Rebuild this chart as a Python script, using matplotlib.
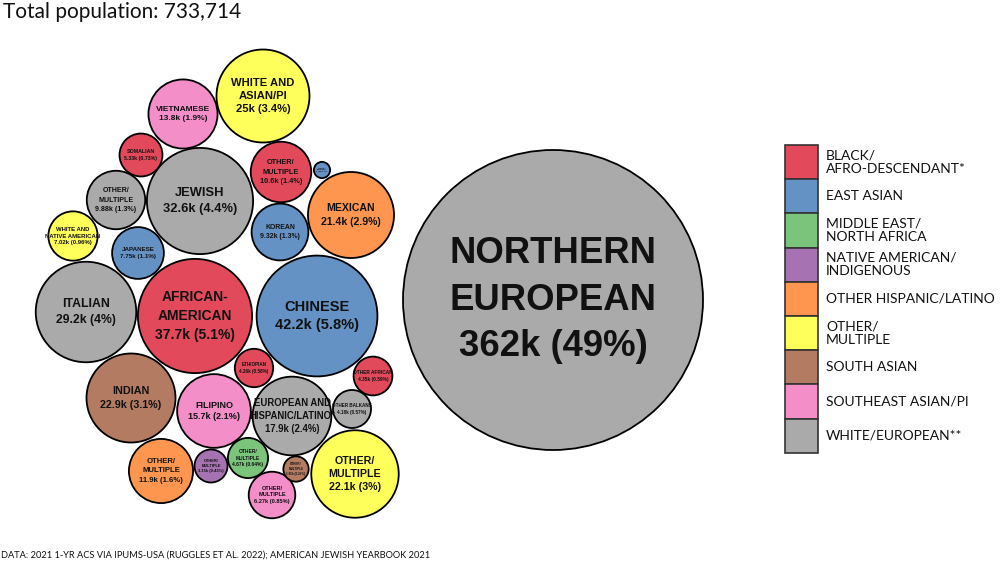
import matplotlib
matplotlib.use("Agg")
import matplotlib.pyplot as plt
from matplotlib.patches import Circle, Rectangle
import numpy as np

# datos de la grafica (valores en miles de personas)
total_poblacion = 733714
nombres = [
    "NORTHERN\nEUROPEAN", "CHINESE", "AFRICAN-\nAMERICAN", "JEWISH", "ITALIAN",
    "WHITE AND\nASIAN/PI", "INDIAN", "OTHER/\nMULTIPLE", "MEXICAN",
    "EUROPEAN AND\nHISPANIC/LATINO*", "FILIPINO", "VIETNAMESE", "OTHER/\nMULTIPLE",
    "OTHER/\nMULTIPLE", "OTHER/\nMULTIPLE", "KOREAN", "JAPANESE",
    "WHITE AND\nNATIVE AMERICAN", "OTHER/\nMULTIPLE", "SOMALIAN", "OTHER/\nMULTIPLE",
    "OTHER AFRICAN", "ETHIOPIAN", "OTHER BALKANS", "OTHER/\nMULTIPLE",
    "OTHER/\nMULTIPLE", "OTHER/\nMULTIPLE",
]
valores_k = [
    362, 42.2, 37.7, 32.6, 29.2,
    25.0, 22.9, 22.1, 21.4,
    17.9, 15.7, 13.8, 11.9,
    10.6, 9.88, 9.32, 7.75,
    7.02, 6.27, 5.33, 4.67,
    4.35, 4.26, 4.18, 3.15,
    1.85, 0.76,
]
grupos = [
    "WHITE/EUROPEAN**", "EAST ASIAN", "BLACK/\nAFRO-DESCENDANT*", "WHITE/EUROPEAN**", "WHITE/EUROPEAN**",
    "OTHER/\nMULTIPLE", "SOUTH ASIAN", "OTHER/\nMULTIPLE", "OTHER HISPANIC/LATINO",
    "WHITE/EUROPEAN**", "SOUTHEAST ASIAN/PI", "SOUTHEAST ASIAN/PI", "OTHER HISPANIC/LATINO",
    "BLACK/\nAFRO-DESCENDANT*", "WHITE/EUROPEAN**", "EAST ASIAN", "EAST ASIAN",
    "OTHER/\nMULTIPLE", "SOUTHEAST ASIAN/PI", "BLACK/\nAFRO-DESCENDANT*", "MIDDLE EAST/\nNORTH AFRICA",
    "BLACK/\nAFRO-DESCENDANT*", "BLACK/\nAFRO-DESCENDANT*", "WHITE/EUROPEAN**", "NATIVE AMERICAN/\nINDIGENOUS",
    "SOUTH ASIAN", "EAST ASIAN",
]
leyenda = [
    "BLACK/\nAFRO-DESCENDANT*", "EAST ASIAN", "MIDDLE EAST/\nNORTH AFRICA",
    "NATIVE AMERICAN/\nINDIGENOUS", "OTHER HISPANIC/LATINO", "OTHER/\nMULTIPLE",
    "SOUTH ASIAN", "SOUTHEAST ASIAN/PI", "WHITE/EUROPEAN**",
]
colores = ["#E24A5C", "#6592C5", "#7BC47C", "#A672B2", "#FE9650",
           "#FFFF5C", "#B27B62", "#F48EC9", "#AAAAAA"]

# posiciones de los centros de las burbujas (pixeles)
centros_x = [553, 317, 195, 200, 86, 263, 131, 355, 351, 292, 214, 183, 161,
             281, 116, 280, 138, 73, 272, 141, 248, 373, 254, 352, 211, 296, 322]
centros_y = [300, 316, 316, 201, 312, 96, 398, 474, 215, 416, 411, 114, 471,
             172, 200, 232, 253, 236, 495, 155, 458, 376, 368, 409, 466, 469, 170]

color_de = dict(zip(leyenda, colores))

fig = plt.figure(figsize=(10, 5.63), dpi=100)
ax = fig.add_axes([0, 0, 1, 1])
ax.set_xlim(0, 1000)
ax.set_ylim(563, 0)
ax.axis("off")

k = 9.3
for nombre, v, g, x, y in zip(nombres, valores_k, grupos, centros_x, centros_y):
    r = min(k * np.sqrt(v), 150)
    ax.add_patch(Circle((x, y), r, facecolor=color_de[g], edgecolor="black", lw=1.3))
    pct = v * 1000 / total_poblacion * 100
    etiqueta = f"{nombre}\n{v:.3g}k ({pct:.2g}%)"
    fs = 0.175 * r
    ax.text(x, y, etiqueta, ha="center", va="center", fontsize=fs,
            fontweight="bold", family="Liberation Sans", color="#111111",
            linespacing=1.42)

# leyenda
alto = 34.2
for i, (lab, c) in enumerate(zip(leyenda, colores)):
    y0 = 145 + i * alto
    ax.add_patch(Rectangle((785, y0), 33, alto, facecolor=c, edgecolor="#333333", lw=1.2))
    ax.text(826, y0 + alto / 2, lab, ha="left", va="center", fontsize=10,
            family="Lato", color="#111111", linespacing=1.15)

ax.text(3, 12, f"Total population: {total_poblacion:,}", ha="left", va="center",
        fontsize=15, family="Lato", color="#111111")
ax.text(1, 555, "DATA: 2021 1-YR ACS VIA IPUMS-USA (RUGGLES ET AL. 2022); AMERICAN JEWISH YEARBOOK 2021",
        ha="left", va="center", fontsize=6.7, family="Lato", color="#111111")

fig.savefig("out.png", dpi=100)
